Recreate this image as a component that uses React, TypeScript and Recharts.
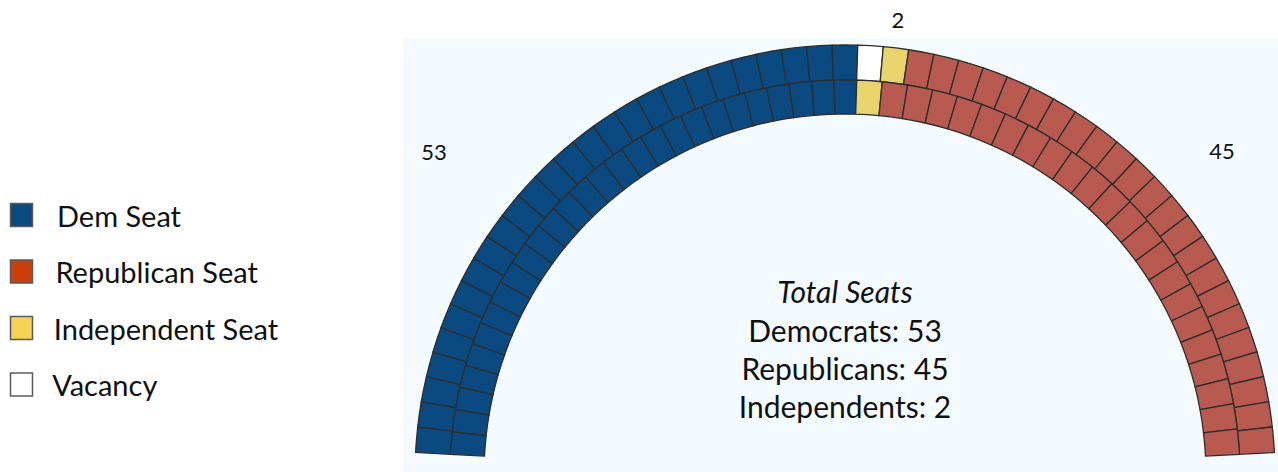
import { PieChart, Pie, Cell } from "recharts";

// seats read left to right along each ring
const PARTIES = ["Dem", "Vacancy", "Independent", "Republican"];
const OUTER_SEATS = [26, 1, 1, 23];
const INNER_SEATS = [27, 0, 1, 22];

const TOTAL_NAMES = ["Democrats", "Republicans", "Independents"];
const TOTAL_VALUES = [53, 45, 2];

const LEGEND_NAMES = ["Dem Seat", "Republican Seat", "Independent Seat", "Vacancy"];

const SEAT_FILL: Record<string, string> = {
  Dem: "#0b4a80",
  Republican: "#b85a4f",
  Independent: "#e8d36c",
  Vacancy: "#ffffff",
};
const KEY_FILL = ["#0b4a7f", "#cc3e0b", "#f6d355", "#ffffff"];
const GRID = "#2d2d2d";
const PANEL = "#f4fbfe";
const FONT = "Lato, 'Open Sans', sans-serif";

function expand(counts: number[]) {
  return PARTIES.flatMap((party, i) =>
    Array.from({ length: counts[i] }, (_, k) => ({ party, id: `${party}-${k}`, seat: 1 }))
  );
}

const outer = expand(OUTER_SEATS);
const inner = expand(INNER_SEATS);

// the Dem block ends just right of top centre in both rings
const LEFT = 177;
const SPLIT = 88.3;
const RIGHT = 3;

export default function App() {
  const rings = [
    { cells: outer, r0: 395, r1: 430 },
    { cells: inner, r0: 361, r1: 395 },
  ];
  return (
    <div style={{ position: "absolute", left: 0, top: 0, width: 1278, height: 472, background: "#fff", fontFamily: FONT }}>
      <div style={{ position: "absolute", left: 403, top: 38, width: 875, height: 434, background: PANEL }}>
        <PieChart width={875} height={434} margin={{ top: 0, right: 0, bottom: 0, left: 0 }}>
          {rings.flatMap((ring, ri) => {
            const dem = ring.cells.filter((c) => c.party === "Dem");
            const rest = ring.cells.filter((c) => c.party !== "Dem");
            return [
              <Pie
                key={`l${ri}`}
                data={dem}
                dataKey="seat"
                nameKey="id"
                cx={442}
                cy={437}
                innerRadius={ring.r0}
                outerRadius={ring.r1}
                startAngle={LEFT}
                endAngle={SPLIT}
                isAnimationActive={false}
              >
                {dem.map((c) => (
                  <Cell key={c.id} fill={SEAT_FILL[c.party]} stroke={GRID} strokeWidth={1.3} />
                ))}
              </Pie>,
              <Pie
                key={`r${ri}`}
                data={rest}
                dataKey="seat"
                nameKey="id"
                cx={442}
                cy={437}
                innerRadius={ring.r0}
                outerRadius={ring.r1}
                startAngle={SPLIT}
                endAngle={RIGHT}
                isAnimationActive={false}
              >
                {rest.map((c) => (
                  <Cell key={c.id} fill={SEAT_FILL[c.party]} stroke={GRID} strokeWidth={1.3} />
                ))}
              </Pie>,
            ];
          })}
        </PieChart>
      </div>

      <svg width={1278} height={472} style={{ position: "absolute", left: 0, top: 0, pointerEvents: "none" }}>
        {/* legend */}
        {LEGEND_NAMES.map((name, i) => (
          <g key={name}>
            <rect x={10.5} y={203.5 + i * 56.5} width={22} height={23} fill={KEY_FILL[i]} stroke="#5a5a5a" strokeWidth={1.5} />
            <text x={57 - i * 1.6} y={227 + i * 56.3} fontSize={29} fill="#111" fontFamily={FONT}>
              {name}
            </text>
          </g>
        ))}

        {/* side counts */}
        <text x={434} y={160} fontSize={22} textAnchor="middle" fill="#111" fontFamily={FONT}>
          {TOTAL_VALUES[0]}
        </text>
        <text x={898} y={28} fontSize={22} textAnchor="middle" fill="#111" fontFamily={FONT}>
          {TOTAL_VALUES[2]}
        </text>
        <text x={1222} y={159} fontSize={22} textAnchor="middle" fill="#111" fontFamily={FONT}>
          {TOTAL_VALUES[1]}
        </text>

        {/* totals */}
        <text x={845} y={303} fontSize={30} fontStyle="italic" textAnchor="middle" fill="#111" fontFamily={FONT}>
          Total Seats
        </text>
        {TOTAL_NAMES.map((name, i) => (
          <text key={name} x={845} y={342 + i * 38} fontSize={30} textAnchor="middle" fill="#111" fontFamily={FONT}>
            {`${name}: ${TOTAL_VALUES[i]}`}
          </text>
        ))}
      </svg>
    </div>
  );
}
